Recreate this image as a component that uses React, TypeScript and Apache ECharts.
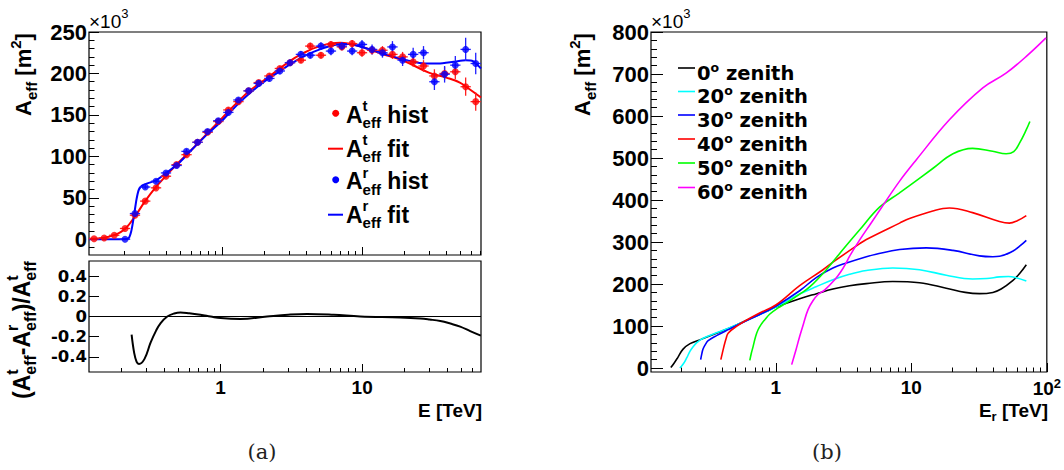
import React, { useEffect, useRef } from "react";
import * as echarts from "echarts";

// ---------------- data: panel (a) ----------------
const RED_E = [0.122, 0.144, 0.170, 0.203, 0.239, 0.283, 0.338, 0.398, 0.474, 0.558, 0.669, 0.789, 0.941, 1.11, 1.31, 1.55, 1.83, 2.18, 2.59, 3.06, 3.66, 4.27, 5.09, 6.0, 7.18, 8.5, 10.0, 11.8, 14.0, 16.5, 19.5, 23.2, 27.5, 32.9, 38.9, 46.4, 55.0, 64.9];
const RED_A = [0.5, 1.5, 4.8, 13, 29, 46, 62, 76, 90, 102, 117, 129, 142, 156, 166, 179, 189, 197, 206, 213, 216, 233, 222, 235, 232, 236, 225, 228, 228, 223, 220, 214, 209, 197, 200, 202, 184, 166];
const RED_ERR = [0.6, 0.8, 1, 1.5, 2, 2, 2.5, 2.5, 2.5, 3, 3, 3, 3, 3, 3, 3, 3, 3, 3, 3, 3.5, 4, 4, 4, 4, 4.5, 5, 5, 5, 5.5, 6, 6, 7, 8, 8, 9, 11, 11];

const BLUE_E = [0.203, 0.239, 0.283, 0.338, 0.398, 0.474, 0.558, 0.669, 0.789, 0.941, 1.11, 1.31, 1.55, 1.83, 2.18, 2.59, 3.06, 3.66, 4.27, 5.09, 6.0, 7.18, 8.5, 10.0, 11.8, 14.0, 16.5, 19.5, 23.2, 27.5, 32.9, 38.9, 46.4, 55.0, 64.9];
const BLUE_A = [0, 31, 63, 70, 80, 89, 106, 117, 130, 143, 153, 168, 179, 188, 194, 203, 213, 223, 222, 233, 227, 233, 227, 235, 229, 225, 232, 216, 223, 225, 190, 199, 210, 229, 212];
const BLUE_ERR = [0.5, 2, 2.5, 2.5, 2.5, 2.5, 3, 3, 3, 3, 3, 3, 3, 3.5, 3.5, 4, 4, 4, 4, 4.5, 5, 5, 5, 5.5, 6, 6, 7, 7, 8, 8, 10, 10, 11, 14, 13];

const RED_FIT_E = [0.1122, 0.13, 0.15, 0.17, 0.19, 0.21, 0.24, 0.28, 0.33, 0.4, 0.5, 0.6, 0.8, 1.0, 1.3, 1.6, 2.2, 3.0, 3.66, 5.0, 7.0, 10, 14, 20, 30, 40, 50, 58, 70.8];
const RED_FIT_A = [0.5, 1, 2.5, 5, 9, 15, 28, 45, 61, 77, 94, 107, 129, 146, 166, 180, 197, 214, 223, 233, 237, 232, 223.5, 215, 201, 195, 189, 181.5, 171];

const BLUE_FIT_E = [0.1122, 0.15, 0.2, 0.215, 0.225, 0.235, 0.245, 0.255, 0.27, 0.3, 0.338, 0.4, 0.5, 0.6, 0.8, 1.0, 1.3, 1.6, 2.0, 2.5, 3.0, 4.0, 5.0, 6.5, 8.0, 10, 13, 17, 22, 28, 35, 45, 55, 62, 70.8];
const BLUE_FIT_A = [0, 0, 0, 1, 10, 28, 48, 60, 65, 68, 71, 80, 93, 107, 128, 143, 163, 177, 190, 201, 210, 222, 229, 234.5, 235.5, 232, 226, 220, 215, 212, 212, 214, 216, 215, 206];

const RES_E = [0.235, 0.245, 0.255, 0.265, 0.29, 0.32, 0.35, 0.377, 0.42, 0.47, 0.52, 0.6, 0.72, 0.85, 1.0, 1.38, 2.13, 3.0, 4.09, 6.3, 9.7, 18.6, 25.8, 30, 35.7, 42, 49.3, 58, 69];
const RES_V = [-0.18, -0.36, -0.45, -0.47, -0.42, -0.26, -0.14, -0.065, 0, 0.03, 0.04, 0.032, 0.017, 0, -0.016, -0.025, 0, 0.018, 0.026, 0.017, 0, -0.01, -0.02, -0.03, -0.045, -0.07, -0.1, -0.145, -0.19];

// ---------------- data: panel (b) ----------------
const Z0_E = [0.168, 0.178, 0.19, 0.207, 0.233, 0.275, 0.365, 0.485, 0.643, 0.854, 1.0, 1.5, 2.0, 2.64, 3.5, 4.66, 7.3, 11.5, 18.1, 25, 31.8, 40, 46, 56, 63, 70.6];
const Z0_A = [1, 12, 26, 45, 58, 67, 83, 99, 117, 135, 145, 165, 177, 188, 196, 201, 206, 203, 190, 180, 177, 180, 188, 208, 225, 246];
const Z20_E = [0.196, 0.208, 0.22, 0.233, 0.246, 0.26, 0.291, 0.365, 0.5, 0.7, 1.0, 1.5, 2.0, 2.64, 3.5, 4.66, 7.3, 11.5, 18.1, 28.3, 36, 44.7, 52, 59.4, 70.6];
const Z20_A = [0, 10, 24, 40, 51, 60, 71, 84, 101, 122, 145, 176, 194, 210, 223, 232, 238, 234, 221, 212, 213, 217, 218, 215, 207];
const Z30_E = [0.279, 0.285, 0.291, 0.305, 0.317, 0.365, 0.45, 0.6, 0.8, 1.0, 1.5, 2.0, 2.64, 3.32, 4.66, 5.5, 8.2, 12.9, 20.3, 31.8, 40, 44.7, 56, 63, 70.6];
const Z30_A = [20, 35, 46, 58, 65, 77, 92, 112, 131, 147, 184, 216, 238, 250, 265, 271, 282, 286, 280, 267, 265, 266, 278, 290, 304];
const Z40_E = [0.393, 0.403, 0.414, 0.43, 0.445, 0.513, 0.6, 0.76, 1.0, 1.5, 2.23, 2.64, 4.16, 4.66, 8.2, 9.7, 14.4, 19.1, 28.3, 44.7, 52.9, 60, 70.6];
const Z40_A = [20, 35, 51, 70, 83, 99, 113, 131, 150, 196, 234, 252, 296, 306, 345, 356, 374, 381, 370, 349, 345, 350, 363];
const Z50_E = [0.643, 0.66, 0.68, 0.71, 0.74, 0.78, 0.83, 0.9, 1.04, 1.2, 1.5, 1.78, 2.36, 3.13, 4.16, 5.83, 8.2, 9.7, 14.4, 20.3, 28.3, 39.8, 50.1, 57, 63, 70, 75];
const Z50_A = [18, 35, 51, 75, 91, 104, 115, 128, 143, 155, 176, 193, 234, 282, 329, 383, 417, 434, 475, 510, 523, 516, 510, 515, 536, 565, 587];
const Z60_E = [1.31, 1.4, 1.5, 1.6, 1.73, 1.88, 2.05, 2.3, 2.72, 3.0, 3.3, 3.5, 4.16, 5.07, 6.0, 8.2, 10.9, 19.1, 33.7, 50, 70.6, 98.6];
const Z60_A = [8, 40, 75, 105, 139, 160, 175, 186, 210, 228, 250, 266, 305, 346, 381, 445, 496, 591, 667, 702, 742, 786];

const ZENITH_LABELS = ["0", "20", "30", "40", "50", "60"];
const ZENITH_COLORS = ["#000000", "#00ffff", "#0000ff", "#ff0000", "#00ff00", "#ff00ff"];
const ZENITH_E = [Z0_E, Z20_E, Z30_E, Z40_E, Z50_E, Z60_E];
const ZENITH_A = [Z0_A, Z20_A, Z30_A, Z40_A, Z50_A, Z60_A];

// ---------------- ticks ----------------
const LEFT_Y_MAJOR = [0, 50, 100, 150, 200, 250];
const LEFT_Y_MINOR = [-10, 10, 20, 30, 40, 60, 70, 80, 90, 110, 120, 130, 140, 160, 170, 180, 190, 210, 220, 230, 240];
const RES_Y_MAJOR = [-0.4, -0.2, 0, 0.2, 0.4];
const RIGHT_Y_MAJOR = [0, 100, 200, 300, 400, 500, 600, 700, 800];
const RIGHT_Y_MINOR = [20, 40, 60, 80, 120, 140, 160, 180, 220, 240, 260, 280, 320, 340, 360, 380, 420, 440, 460, 480, 520, 540, 560, 580, 620, 640, 660, 680, 720, 740, 760, 780];
const X_MAJOR_LEFT = [1, 10];
const X_MINOR_LEFT = [0.2, 0.3, 0.4, 0.5, 0.6, 0.7, 0.8, 0.9, 2, 3, 4, 5, 6, 7, 8, 9, 20, 30, 40, 50, 60, 70];
const X_MAJOR_RIGHT = [1, 10, 100];
const X_MINOR_RIGHT = [0.2, 0.3, 0.4, 0.5, 0.6, 0.7, 0.8, 0.9, 2, 3, 4, 5, 6, 7, 8, 9, 20, 30, 40, 50, 60, 70, 80, 90];

// ---------------- styling helpers ----------------
const FONT = '"Liberation Sans", Arial, Helvetica, sans-serif';
const WIDE = '"DejaVu Sans", sans-serif';
const SERIF = '"DejaVu Serif", serif';
const lg = (v: number) => Math.log10(v);
const HALF_BIN = 0.0368;

let mctx: CanvasRenderingContext2D | null = null;
function measure(text: string, size: number, weight: string, family: string) {
  if (!mctx) mctx = document.createElement("canvas").getContext("2d");
  if (!mctx) return text.length * size * 0.6;
  mctx.font = `${weight} ${size}px ${family}`;
  return mctx.measureText(text).width;
}

type Seg = { t: string; s: number; dy?: number; stack?: boolean };
function run(segs: Seg[], family = FONT, weight = "bold", fill = "#000") {
  const children: any[] = [];
  let x = 0;
  let pend = 0;
  for (const g of segs) {
    const w = measure(g.t, g.s, weight, family);
    children.push({
      type: "text",
      x,
      y: (g.dy || 0) - 0.35 * g.s,
      style: { text: g.t, fontSize: g.s, fontFamily: family, fontWeight: weight, fill, textAlign: "left", textVerticalAlign: "middle" },
    });
    if (g.stack) pend = Math.max(pend, w);
    else {
      x += Math.max(w, pend);
      pend = 0;
    }
  }
  return { children, width: x };
}

function aeff(main: number, sub: number, sup: string | null, subDy: number, supDy: number): Seg[] {
  if (sup) return [{ t: "A", s: main }, { t: sup, s: sub, dy: supDy, stack: true }, { t: "eff", s: sub, dy: subDy }];
  return [{ t: "A", s: main }, { t: "eff", s: sub, dy: subDy }];
}

function xAxisPair(gridIndex: number, min: number, max: number, major: number[], minor: number[], showLabels: boolean, majLen: number, minLen: number) {
  const common = {
    type: "value",
    gridIndex,
    min,
    max,
    position: "bottom",
    axisLine: { show: false, onZero: false },
    splitLine: { show: false },
  };
  return [
    {
      ...common,
      axisTick: { show: true, inside: true, length: majLen, customValues: major.map(lg), lineStyle: { color: "#000", width: 1 } },
      axisLabel: {
        show: showLabels,
        customValues: major.map(lg),
        margin: 5,
        formatter: (v: number) => {
          const e = Math.round(Math.pow(10, v));
          return e === 100 ? "{b|10}{s|2}" : "{b|" + e + "}";
        },
        rich: {
          b: { fontSize: 19, fontWeight: "bold", fontFamily: FONT, color: "#000", lineHeight: 20, verticalAlign: "bottom" },
          s: { fontSize: 13, fontWeight: "bold", fontFamily: FONT, color: "#000", verticalAlign: "bottom", padding: [0, 0, 8, 0] },
        },
      },
    },
    {
      ...common,
      axisTick: { show: true, inside: true, length: minLen, customValues: minor.map(lg), lineStyle: { color: "#000", width: 1 } },
      axisLabel: { show: false },
    },
  ];
}

function yAxisPair(gridIndex: number, min: number, max: number, major: number[], minor: number[] | null, size: number, family: string, majLen: number, minLen: number) {
  const common = {
    type: "value",
    gridIndex,
    min,
    max,
    position: "left",
    axisLine: { show: false, onZero: false },
    splitLine: { show: false },
  };
  const out: any[] = [
    {
      ...common,
      axisTick: { show: true, inside: true, length: majLen, customValues: major, lineStyle: { color: "#000", width: 1 } },
      axisLabel: {
        show: true, customValues: major, margin: 2, color: "#000", fontFamily: family, fontWeight: "bold", fontSize: size,
        lineHeight: Math.round(size * 0.9), hideOverlap: false,
        formatter: (v: number) => String(Math.round(v * 100) / 100),
      },
    },
  ];
  if (minor)
    out.push({
      ...common,
      axisTick: { show: true, inside: true, length: minLen, customValues: minor, lineStyle: { color: "#000", width: 1 } },
      axisLabel: { show: false },
    });
  return out;
}

function errBars(E: number[], A: number[], ERR: number[], color: string) {
  return {
    type: "custom",
    xAxisIndex: 0,
    yAxisIndex: 0,
    silent: true,
    z: 3,
    encode: { x: 0, y: 1 },
    data: E.map((e, i) => [lg(e), A[i], ERR[i]]),
    renderItem: (_p: any, api: any) => {
      const x = api.value(0);
      const y = api.value(1);
      const er = api.value(2);
      const l = api.coord([x - HALF_BIN, y]);
      const r = api.coord([x + HALF_BIN, y]);
      const t = api.coord([x, y + er]);
      const b = api.coord([x, y - er]);
      return {
        type: "group",
        children: [
          { type: "line", shape: { x1: l[0], y1: l[1], x2: r[0], y2: r[1] }, style: { stroke: color, lineWidth: 1.3 } },
          { type: "line", shape: { x1: t[0], y1: t[1], x2: b[0], y2: b[1] }, style: { stroke: color, lineWidth: 1.3 } },
        ],
      };
    },
  };
}

function buildOption() {
  const LXA = [-0.95, 1.85];
  const LXB = [-0.93, 1.84];
  const RX = [lg(0.12), 2];

  const xAxis = [
    ...xAxisPair(0, LXA[0], LXA[1], X_MAJOR_LEFT, X_MINOR_LEFT, false, 8, 4),
    ...xAxisPair(1, LXB[0], LXB[1], X_MAJOR_LEFT, X_MINOR_LEFT, true, 8, 4),
    ...xAxisPair(2, RX[0], RX[1], X_MAJOR_RIGHT, X_MINOR_RIGHT, true, 9, 4.5),
  ];
  const yAxis = [
    ...yAxisPair(0, -19, 250, LEFT_Y_MAJOR, LEFT_Y_MINOR, 22, FONT, 10, 5.5),
    ...yAxisPair(1, -0.55, 0.55, RES_Y_MAJOR, null, 16.5, WIDE, 10, 5),
    ...yAxisPair(2, -9.5, 800, RIGHT_Y_MAJOR, RIGHT_Y_MINOR, 22, FONT, 12, 6),
  ];

  const lineBase = { type: "line", showSymbol: false, smooth: 0.4, silent: true };
  const series: any[] = [
    {
      ...lineBase, xAxisIndex: 0, yAxisIndex: 0, z: 2,
      lineStyle: { color: "#ff0000", width: 2 },
      data: RED_FIT_E.map((e, i) => [lg(e), RED_FIT_A[i]]),
    },
    {
      ...lineBase, xAxisIndex: 0, yAxisIndex: 0, z: 2, smooth: 0.25,
      lineStyle: { color: "#0000ff", width: 2 },
      data: BLUE_FIT_E.map((e, i) => [lg(e), BLUE_FIT_A[i]]),
    },
    errBars(RED_E, RED_A, RED_ERR, "#ff2020"),
    {
      type: "scatter", xAxisIndex: 0, yAxisIndex: 0, symbol: "circle", symbolSize: 7, silent: true, z: 4,
      itemStyle: { color: "#ff0000" },
      data: RED_E.map((e, i) => [lg(e), RED_A[i]]),
    },
    errBars(BLUE_E, BLUE_A, BLUE_ERR, "#2020ff"),
    {
      type: "scatter", xAxisIndex: 0, yAxisIndex: 0, symbol: "circle", symbolSize: 7, silent: true, z: 5,
      itemStyle: { color: "#0000ff" },
      data: BLUE_E.map((e, i) => [lg(e), BLUE_A[i]]),
    },
    {
      ...lineBase, xAxisIndex: 2, yAxisIndex: 2,
      lineStyle: { color: "#000", width: 2 },
      data: RES_E.map((e, i) => [lg(e), RES_V[i]]),
      markLine: {
        silent: true, symbol: ["none", "none"], label: { show: false },
        lineStyle: { color: "#000", width: 1.2, type: "solid" },
        data: [{ yAxis: 0 }],
      },
    },
    ...ZENITH_E.map((E, k) => ({
      ...lineBase, xAxisIndex: 4, yAxisIndex: 3,
      lineStyle: { color: ZENITH_COLORS[k], width: 1.6 },
      data: E.map((e, i) => [lg(e), ZENITH_A[k][i]]),
    })),
  ];

  // ---------- graphic texts ----------
  const graphic: any[] = [];
  const place = (r: { children: any[]; width: number }, x: number, y: number, rotation = 0) =>
    graphic.push({ type: "group", x, y, rotation, children: r.children });

  // ×10^3
  for (const gx of [89, 651]) {
    place(run([{ t: "×10", s: 19 }, { t: "3", s: 13, dy: -10 }], FONT, "normal"), gx, 28);
  }
  // y titles
  const yTitle = () => run([...aeff(22, 15, null, 6, 0), { t: " [m", s: 22 }, { t: "2", s: 15, dy: -10 }, { t: "]", s: 22 }]);
  place(yTitle(), 31, 116, Math.PI / 2);
  place(yTitle(), 590, 116, Math.PI / 2);
  place(
    run([
      { t: "(", s: 23 },
      ...aeff(23, 16, "t", 6, -12),
      { t: "-", s: 23 },
      ...aeff(23, 16, "r", 6, -12),
      { t: ")/", s: 23 },
      ...aeff(23, 16, "t", 6, -12),
    ]),
    30, 399, Math.PI / 2
  );
  // x titles
  const xt1 = run([{ t: "E [TeV]", s: 19 }]);
  place(xt1, 482 - xt1.width, 417);
  const xt2 = run([{ t: "E", s: 19 }, { t: "r", s: 13, dy: 4 }, { t: " [TeV]", s: 19 }]);
  place(xt2, 1048 - xt2.width, 417);

  // left legend
  const LEG_SUP = ["t", "t", "r", "r"];
  const LEG_REST = [" hist", " fit", " hist", " fit"];
  const LEG_COLOR = ["#ff0000", "#ff0000", "#0000ff", "#0000ff"];
  const LEG_BASE = [122.7, 156.7, 189.3, 222.7];
  for (let i = 0; i < 4; i++) {
    const base = LEG_BASE[i];
    if (i % 2 === 0) graphic.push({ type: "circle", shape: { cx: 335.7, cy: base - 9.5, r: 3.5 }, style: { fill: LEG_COLOR[i] } });
    else graphic.push({ type: "line", shape: { x1: 328, y1: base - 8, x2: 343, y2: base - 8 }, style: { stroke: LEG_COLOR[i], lineWidth: 2 } });
    place(run([...aeff(23, 15, LEG_SUP[i], 5.5, -11.5), { t: LEG_REST[i], s: 23 }]), 346, base);
  }

  // right legend
  const Z_BASE = [80, 103.5, 127, 151, 175, 199.5];
  for (let k = 0; k < 6; k++) {
    const base = Z_BASE[k];
    graphic.push({ type: "line", shape: { x1: 678, y1: base - 12, x2: 695, y2: base - 12 }, style: { stroke: ZENITH_COLORS[k], lineWidth: 1.6 } });
    place(run([{ t: ZENITH_LABELS[k], s: 19.5 }, { t: "o", s: 12.5, dy: -8.5 }, { t: " zenith", s: 19.5 }], WIDE), 697, base);
  }

  // captions
  graphic.push({ type: "text", x: 262, y: 452, style: { text: "(a)", fontSize: 21, fontFamily: SERIF, fill: "#222", textAlign: "center", textVerticalAlign: "middle" } });
  graphic.push({ type: "text", x: 827, y: 452, style: { text: "(b)", fontSize: 21, fontFamily: SERIF, fill: "#222", textAlign: "center", textVerticalAlign: "middle" } });

  const gridStyle = { show: true, borderColor: "#000", borderWidth: 1.2, backgroundColor: "transparent", containLabel: false };
  return {
    animation: false,
    backgroundColor: "#ffffff",
    grid: [
      { ...gridStyle, left: 89, top: 32, width: 392, height: 223 },
      { ...gridStyle, left: 89, top: 261, width: 392, height: 111 },
      { ...gridStyle, left: 651, top: 32, width: 396, height: 340 },
    ],
    xAxis,
    yAxis,
    series,
    graphic,
  };
}

export default function App() {
  const ref = useRef<HTMLDivElement>(null);
  useEffect(() => {
    document.body.style.margin = "0";
    if (!ref.current) return;
    const chart = echarts.init(ref.current, null, { renderer: "svg" });
    chart.setOption(buildOption() as any);
    return () => chart.dispose();
  }, []);
  return <div ref={ref} style={{ width: 1064, height: 470 }} />;
}
